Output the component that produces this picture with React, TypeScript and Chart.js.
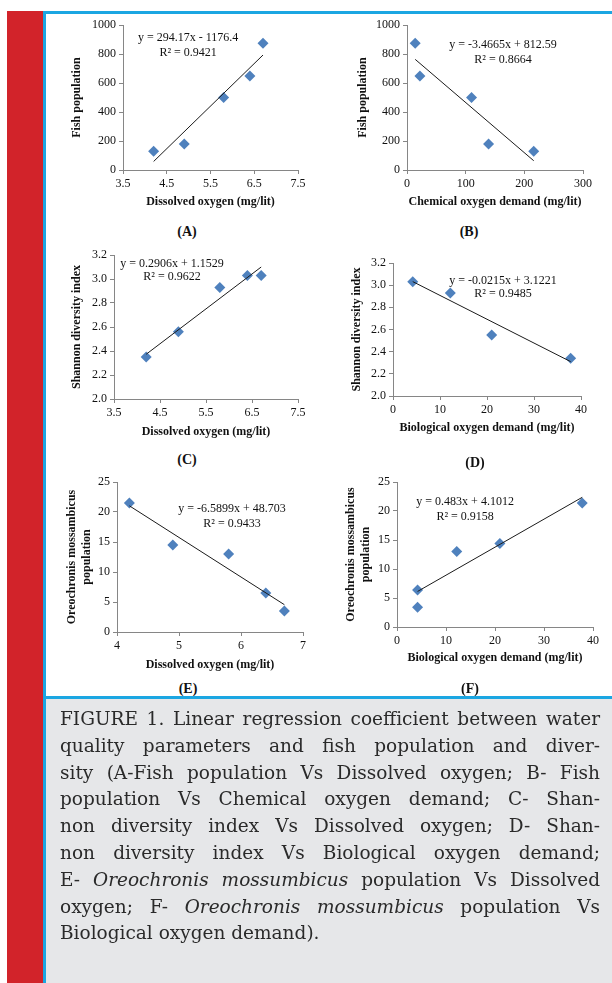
import React, { useEffect, useRef } from 'react';
import { Chart, registerables } from 'chart.js';

Chart.register(...registerables);
Chart.defaults.font.family = "'Liberation Serif', 'Times New Roman', serif";
Chart.defaults.color = '#111111';

// ---------- Data ----------
// (A) Fish population vs Dissolved oxygen
const doA = [4.2, 4.9, 5.8, 6.4, 6.7];
const fishA = [130, 180, 500, 650, 875];
const trendAx = [4.2, 6.7];
const trendAy = [59, 794];

// (B) Fish population vs Chemical oxygen demand
const codB = [14, 22, 110, 139, 216];
const fishB = [875, 650, 500, 180, 130];
const trendBx = [14, 216];
const trendBy = [764, 64];

// (C) Shannon diversity index vs Dissolved oxygen
const doC = [4.2, 4.9, 5.8, 6.4, 6.7];
const shannonC = [2.35, 2.56, 2.93, 3.03, 3.03];
const trendCx = [4.2, 6.7];
const trendCy = [2.373, 3.1];

// (D) Shannon diversity index vs Biological oxygen demand
const bodD = [4.2, 12.2, 21, 37.8];
const shannonD = [3.03, 2.93, 2.55, 2.34];
const trendDx = [4.2, 37.8];
const trendDy = [3.032, 2.31];

// (E) Oreochronis mossambicus population vs Dissolved oxygen
const doE = [4.2, 4.9, 5.8, 6.4, 6.7];
const oreoE = [21.5, 14.5, 13, 6.5, 3.5];
const trendEx = [4.2, 6.7];
const trendEy = [21.03, 4.55];

// (F) Oreochronis mossambicus population vs Biological oxygen demand
const bodF = [4.2, 4.2, 12.2, 21, 37.8];
const oreoF = [6.4, 3.4, 13, 14.4, 21.4];
const trendFx = [4.2, 37.8];
const trendFy = [6.13, 22.36];

// Equation labels
const eqA = ['y = 294.17x - 1176.4', 'R² = 0.9421'];
const eqB = ['y = -3.4665x + 812.59', 'R² = 0.8664'];
const eqC = ['y = 0.2906x + 1.1529', 'R² = 0.9622'];
const eqD = ['y = -0.0215x + 3.1221', 'R² = 0.9485'];
const eqE = ['y = -6.5899x + 48.703', 'R² = 0.9433'];
const eqF = ['y = 0.483x + 4.1012', 'R² = 0.9158'];

const captionLines = [
  'FIGURE 1. Linear regression coefficient between water',
  'quality parameters and fish population and diver-',
  'sity (A-Fish population Vs Dissolved oxygen; B- Fish',
  'population Vs Chemical oxygen demand; C- Shan-',
  'non diversity index Vs Dissolved oxygen; D- Shan-',
  'non diversity index Vs Biological oxygen demand;',
  'E- *Oreochronis mossumbicus* population Vs Dissolved',
  'oxygen; F- *Oreochronis mossumbicus* population Vs',
  'Biological oxygen demand).',
];

// ---------- Plugin: equation text at data coordinates ----------
const eqPlugin = {
  id: 'eqText',
  afterDatasetsDraw(chart: any, _args: any, opts: any) {
    const { ctx, scales } = chart;
    ctx.save();
    ctx.font = "12px 'Liberation Serif', serif";
    ctx.fillStyle = '#111111';
    ctx.textAlign = 'center';
    ctx.textBaseline = 'middle';
    for (const t of opts.items || []) {
      ctx.fillText(t.text, scales.x.getPixelForValue(t.x), scales.y.getPixelForValue(t.y));
    }
    ctx.restore();
  },
};

type Geo = {
  cl: number; ct: number; cw: number; ch: number;
  pl: number; pr: number; pt: number; pb: number;
  ytx: number; xty: number;
};

type PanelProps = {
  geo: Geo;
  xs: number[]; ys: number[]; tx: number[]; ty: number[];
  xMin: number; xMax: number; xStep: number;
  yMin: number; yMax: number; yStep: number; yDec: number;
  xTitle: string; yTitle: string | string[];
  eq: string[]; eqX: number; eqY1: number; eqY2: number;
};

function ScatterPanel(p: PanelProps) {
  const ref = useRef<HTMLCanvasElement>(null);
  useEffect(() => {
    const g = p.geo;
    const multi = Array.isArray(p.yTitle);
    const yLh = multi ? 15 : 14.4;
    const xLh = 14.4;
    const yW = g.pl - g.cl;
    const xH = g.xty + xLh / 2 - g.pb;
    const chart = new Chart(ref.current as HTMLCanvasElement, {
      type: 'scatter',
      data: {
        datasets: [
          {
            data: p.tx.map((x, i) => ({ x, y: p.ty[i] })),
            showLine: true,
            borderColor: '#1a1a1a',
            borderWidth: 1,
            pointRadius: 0,
            fill: false,
            clip: false,
          } as any,
          {
            data: p.xs.map((x, i) => ({ x, y: p.ys[i] })),
            pointStyle: 'rectRot',
            pointRadius: 5.5,
            backgroundColor: '#4f81bd',
            borderColor: '#4f81bd',
            borderWidth: 0,
            clip: false,
          } as any,
        ],
      },
      options: {
        animation: false,
        responsive: false,
        events: [],
        layout: {
          padding: {
            left: 0,
            top: g.pt - g.ct,
            right: g.cl + g.cw - g.pr,
            bottom: g.ct + g.ch - g.pb - xH,
          },
        },
        plugins: {
          legend: { display: false },
          tooltip: { enabled: false },
          eqText: {
            items: [
              { text: p.eq[0], x: p.eqX, y: p.eqY1 },
              { text: p.eq[1], x: p.eqX, y: p.eqY2 },
            ],
          },
        } as any,
        scales: {
          x: {
            type: 'linear',
            position: 'bottom',
            min: p.xMin,
            max: p.xMax,
            ticks: {
              stepSize: p.xStep,
              autoSkip: false,
              maxRotation: 0,
              padding: 3,
              color: '#111111',
              font: { size: 12 },
              callback: (v: any) => String(Math.round(Number(v) * 100) / 100),
            },
            grid: { drawOnChartArea: false, drawTicks: true, tickLength: 4, color: '#868686' },
            border: { color: '#868686', width: 1 },
            title: {
              display: true,
              text: p.xTitle,
              color: '#111111',
              font: { size: 12, weight: 'bold', lineHeight: 1.2 },
              padding: { top: 0, bottom: 0 },
            },
            afterFit: (s: any) => { s.height = xH; },
          },
          y: {
            type: 'linear',
            position: 'left',
            min: p.yMin,
            max: p.yMax,
            ticks: {
              stepSize: p.yStep,
              autoSkip: false,
              padding: 3,
              color: '#111111',
              font: { size: 12 },
              callback: (v: any) => Number(v).toFixed(p.yDec),
            },
            grid: { drawOnChartArea: false, drawTicks: true, tickLength: 4, color: '#868686' },
            border: { color: '#868686', width: 1 },
            title: {
              display: true,
              text: p.yTitle,
              color: '#111111',
              font: { size: 12, weight: 'bold', lineHeight: multi ? 1.25 : 1.2 },
              padding: { top: g.ytx - g.cl - yLh / 2, bottom: 0 },
            },
            afterFit: (s: any) => { s.width = yW; },
          },
        },
      } as any,
      plugins: [eqPlugin],
    });
    return () => chart.destroy();
  }, []);
  const g = p.geo;
  return (
    <canvas
      ref={ref}
      width={g.cw}
      height={g.ch}
      style={{ position: 'absolute', left: g.cl, top: g.ct, width: g.cw, height: g.ch }}
    />
  );
}

const serif = "'Liberation Serif', 'Times New Roman', serif";

function PanelLabel({ text, x, y }: { text: string; x: number; y: number }) {
  return (
    <div
      style={{
        position: 'absolute', left: x, top: y, transform: 'translate(-50%, -50%)',
        fontFamily: serif, fontWeight: 'bold', fontSize: 14, color: '#111', whiteSpace: 'nowrap',
      }}
    >
      {text}
    </div>
  );
}

function CaptionLine({ text, last }: { text: string; last: boolean }) {
  const parts = text.split('*');
  return (
    <div
      style={{
        height: 26.8,
        lineHeight: '26.8px',
        textAlign: 'justify',
        textAlignLast: last ? 'left' : 'justify',
        whiteSpace: 'nowrap',
      } as any}
    >
      {parts.map((s, i) => (i % 2 === 1 ? <i key={i}>{s}</i> : <span key={i}>{s}</span>))}
    </div>
  );
}

export default function App() {
  const blue = '#1ba6e2';
  return (
    <div style={{ position: 'absolute', left: 0, top: 0, width: 612, height: 983, background: '#ffffff', overflow: 'hidden' }}>
      <div style={{ position: 'absolute', left: 7, top: 11, width: 36, height: 972, background: '#d2232a' }} />
      <div style={{ position: 'absolute', left: 46, top: 699, width: 566, height: 284, background: '#e6e7e9' }} />

      <ScatterPanel
        geo={{ cl: 48, ct: 15, cw: 272, ch: 200, pl: 123, pr: 298, pt: 25, pb: 170, ytx: 77, xty: 202 }}
        xs={doA} ys={fishA} tx={trendAx} ty={trendAy}
        xMin={3.5} xMax={7.5} xStep={1} yMin={0} yMax={1000} yStep={200} yDec={0}
        xTitle="Dissolved oxygen (mg/lit)" yTitle="Fish population"
        eq={eqA} eqX={4.99} eqY1={910} eqY2={807}
      />
      <ScatterPanel
        geo={{ cl: 328, ct: 15, cw: 280, ch: 200, pl: 407, pr: 583, pt: 25, pb: 170, ytx: 363, xty: 202 }}
        xs={codB} ys={fishB} tx={trendBx} ty={trendBy}
        xMin={0} xMax={300} xStep={100} yMin={0} yMax={1000} yStep={200} yDec={0}
        xTitle="Chemical oxygen demand (mg/lit)" yTitle="Fish population"
        eq={eqB} eqX={163.6} eqY1={862} eqY2={759}
      />
      <ScatterPanel
        geo={{ cl: 48, ct: 243, cw: 272, ch: 200, pl: 114, pr: 298, pt: 255, pb: 399, ytx: 77, xty: 432 }}
        xs={doC} ys={shannonC} tx={trendCx} ty={trendCy}
        xMin={3.5} xMax={7.5} xStep={1} yMin={2.0} yMax={3.2} yStep={0.2} yDec={1}
        xTitle="Dissolved oxygen (mg/lit)" yTitle="Shannon diversity index"
        eq={eqC} eqX={4.76} eqY1={3.125} eqY2={3.017}
      />
      <ScatterPanel
        geo={{ cl: 328, ct: 243, cw: 280, ch: 200, pl: 393, pr: 581, pt: 263, pb: 396, ytx: 357, xty: 428 }}
        xs={bodD} ys={shannonD} tx={trendDx} ty={trendDy}
        xMin={0} xMax={40} xStep={10} yMin={2.0} yMax={3.2} yStep={0.2} yDec={1}
        xTitle="Biological oxygen demand (mg/lit)" yTitle="Shannon diversity index"
        eq={eqD} eqX={23.4} eqY1={3.038} eqY2={2.92}
      />
      <ScatterPanel
        geo={{ cl: 48, ct: 470, cw: 272, ch: 210, pl: 117, pr: 303, pt: 482, pb: 632, ytx: 72, xty: 665 }}
        xs={doE} ys={oreoE} tx={trendEx} ty={trendEy}
        xMin={4} xMax={7} xStep={1} yMin={0} yMax={25} yStep={5} yDec={0}
        xTitle="Dissolved oxygen (mg/lit)" yTitle={['Oreochronis mossambicus', 'population']}
        eq={eqE} eqX={5.855} eqY1={20.5} eqY2={18.0}
      />
      <ScatterPanel
        geo={{ cl: 328, ct: 470, cw: 280, ch: 210, pl: 397, pr: 593, pt: 482, pb: 627, ytx: 351, xty: 658 }}
        xs={bodF} ys={oreoF} tx={trendFx} ty={trendFy}
        xMin={0} xMax={40} xStep={10} yMin={0} yMax={25} yStep={5} yDec={0}
        xTitle="Biological oxygen demand (mg/lit)" yTitle={['Oreochronis mossambicus', 'population']}
        eq={eqF} eqX={13.9} eqY1={21.55} eqY2={18.97}
      />

      <PanelLabel text="(A)" x={187} y={232} />
      <PanelLabel text="(B)" x={469} y={232} />
      <PanelLabel text="(C)" x={187} y={460} />
      <PanelLabel text="(D)" x={475} y={463} />
      <PanelLabel text="(E)" x={188} y={689} />
      <PanelLabel text="(F)" x={470} y={689} />

      <div style={{ position: 'absolute', left: 43, top: 11, width: 3, height: 972, background: blue }} />
      <div style={{ position: 'absolute', left: 43, top: 11, width: 569, height: 3, background: blue }} />
      <div style={{ position: 'absolute', left: 46, top: 696, width: 566, height: 3, background: blue }} />

      <div
        style={{
          position: 'absolute', left: 60, top: 706, width: 540,
          fontFamily: "'DejaVu Serif', serif", fontSize: 18.5, color: '#2a2a2a',
        }}
      >
        {captionLines.map((l, i) => (
          <CaptionLine key={i} text={l} last={i === captionLines.length - 1} />
        ))}
      </div>
    </div>
  );
}
